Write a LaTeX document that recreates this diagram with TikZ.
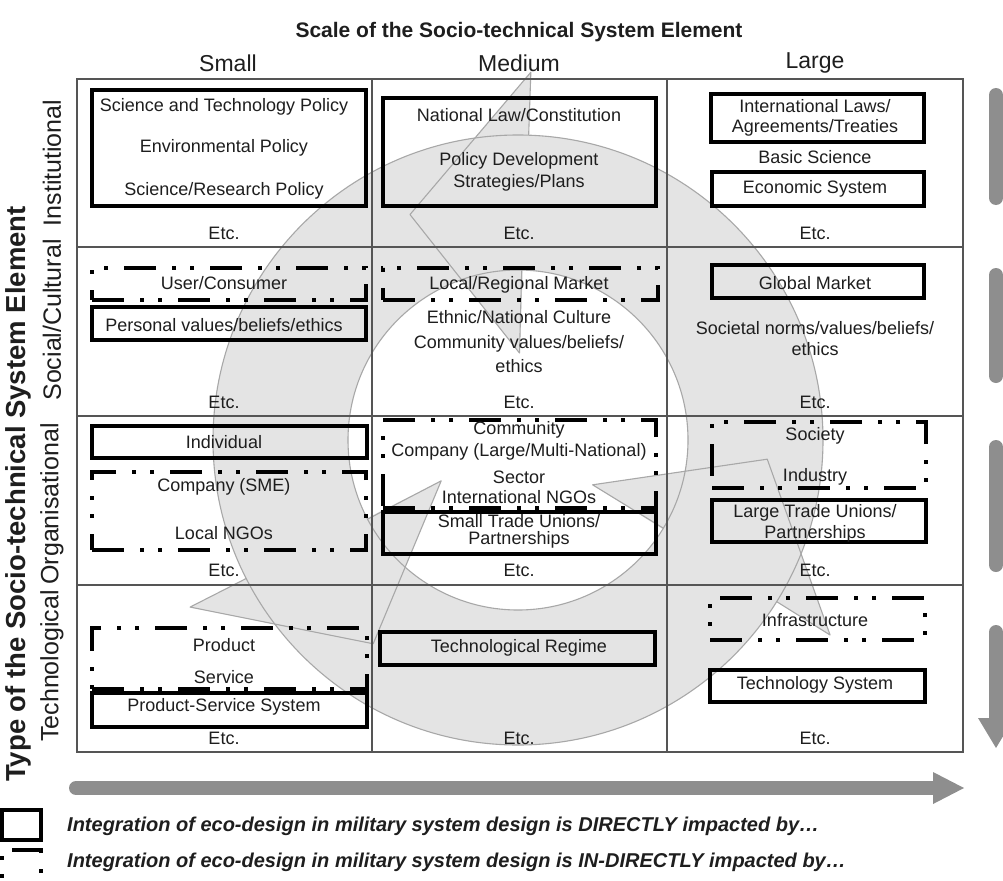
\documentclass[tikz,border=0pt]{standalone}
\usepackage{fontspec}
\setmainfont{Liberation Sans}
\definecolor{ringfill}{HTML}{E4E4E4}
\definecolor{ringline}{HTML}{A8A8A8}
\definecolor{gridcol}{HTML}{555555}
\definecolor{bargray}{HTML}{8E8E8E}
\definecolor{ink}{HTML}{1E1E1E}
\newcommand\cbox[6]{\node[#1,anchor=north west,minimum width={#5-#3},minimum height={#6-#4}] (#2) at (#3,#4) {};}
\begin{document}
\begin{tikzpicture}[x=1pt,y=-1pt,
  sbox/.style={draw=black,line width=4pt,inner sep=0pt,outer sep=0pt},
  dbox/.style={draw=black,line width=4pt,inner sep=0pt,outer sep=0pt,
    dash pattern=on 32pt off 16pt on 4pt off 14pt on 4pt off 16pt},
  txt/.style={font=\fontsize{18}{20}\selectfont,text=ink,inner sep=0pt,align=center},
  hdr/.style={font=\fontsize{23}{26}\selectfont,text=ink,inner sep=0pt},
  ttl/.style={font=\bfseries\fontsize{21}{24}\selectfont,text=ink,inner sep=0pt},
  rowlbl/.style={font=\fontsize{25}{28}\selectfont,text=ink,inner sep=0pt,rotate=90},
  vttl/.style={font=\bfseries\fontsize{27.5}{30}\selectfont,text=ink,inner sep=0pt,rotate=90},
  lgd/.style={font=\bfseries\itshape\fontsize{20}{22}\selectfont,text=ink,inner sep=0pt,anchor=west},
  gridln/.style={draw=gridcol,line width=1.5pt},
  bar/.style={draw=bargray,line width=14pt,line cap=round},
  ringln/.style={draw=ringline,line width=1.1pt}]
\useasboundingbox (0,0) rectangle (1003,880);
\fill[white] (0,0) rectangle (1003,880);

% cycle ring with three arrowheads
\begin{scope}[shift={(518,440)},yscale=-1]
  \fill[ringfill,even odd rule] (0,0) circle[radius=305] (0,0) circle[radius=170];
  \foreach \t in {88,207,328}{
    \fill[ringfill] (\t:368) -- ({\t+27.6}:250) -- ({\t+1}:87) -- cycle;
  }
  \draw[ringln] (0,0) circle[radius=305];
  \draw[ringln] (0,0) circle[radius=170];
  \foreach \t in {88,207,328}{
    \draw[ringln,line join=round] (\t:305) -- (\t:368) -- ({\t+27.6}:250) -- ({\t+1}:87) -- ({\t+0.75}:170);
  }
\end{scope}

% grid
\draw[gridln] (77,79) rectangle (963,752);
\draw[gridln] (372,79) -- (372,752);
\draw[gridln] (667,79) -- (667,752);
\draw[gridln] (77,247) -- (963,247);
\draw[gridln] (77,416) -- (963,416);
\draw[gridln] (77,585) -- (963,585);

% headers
\node[ttl] (title) at (519,32) {Scale of the Socio-technical System Element};
\node[hdr] (hs) at (228,63) {Small};
\node[hdr] (hm) at (519,63) {Medium};
\node[hdr] (hl) at (815,63) {Large};
\node[vttl] (vtitle) at (18,494) {Type of the Socio-technical System Element};
\node[rowlbl] (r1) at (52,163) {Institutional};
\node[rowlbl] (r2) at (52,320) {Social/Cultural};
\node[rowlbl] (r3) at (52,504) {Organisational};
\node[rowlbl] (r4) at (52,666) {Technological};

% right side bars
\draw[bar] (996,95) -- (996,198);
\draw[bar] (996,275) -- (996,376);
\draw[bar] (996,447) -- (996,565);
\draw[bar] (996,632) -- (996,722);
\fill[bargray] (978,718) -- (1014,718) -- (996,748) -- cycle;
% bottom arrow
\draw[bar] (76,788) -- (936,788);
\fill[bargray] (933,772) -- (964,788) -- (933,804) -- cycle;

% Institutional
\cbox{sbox}{bis}{92}{90}{366}{206}
\node[txt] (is1) at (224,107) {Science and Technology Policy};
\node[txt] (is2) at (224,148) {Environmental Policy};
\node[txt] (is3) at (224,191) {Science/Research Policy};
\node[txt] (ise) at (224,233) {Etc.};
\cbox{sbox}{bim}{383}{98}{656}{206}
\node[txt] (im1) at (519,115) {National Law/Constitution};
\node[txt] (im2) at (519,161) {Policy Development};
\node[txt] (im3) at (519,183) {Strategies/Plans};
\node[txt] (ime) at (519,233) {Etc.};
\cbox{sbox}{bil1}{711}{94}{924}{142}
\node[txt] (il1) at (815,106) {International Laws/};
\node[txt] (il2) at (815,128) {Agreements/Treaties};
\node[txt] (il3) at (815,157) {Basic Science};
\cbox{sbox}{bil2}{712}{172}{924}{206}
\node[txt] (il4) at (815,189) {Economic System};
\node[txt] (ile) at (815,233) {Etc.};

% Social/Cultural
\cbox{dbox}{bss1}{92}{268}{366}{300}
\node[txt] (ss1) at (224,283) {User/Consumer};
\cbox{sbox}{bss2}{92}{307}{366}{340}
\node[txt] (ss2) at (224,325) {Personal values/beliefs/ethics};
\node[txt] (sse) at (224,402) {Etc.};
\cbox{dbox}{bsm}{383}{268}{658}{300}
\node[txt] (sm1) at (519,285) {Local/Regional Market};
\node[txt] (sm2) at (519,317) {Ethnic/National Culture};
\node[txt] (sm3) at (519,344) {Community values/beliefs/};
\node[txt] (sm4) at (519,366) {ethics};
\node[txt] (sme) at (519,402) {Etc.};
\cbox{sbox}{bsl}{712}{265}{924}{298}
\node[txt] (sl1) at (815,283) {Global Market};
\node[txt] (sl2) at (815,328) {Societal norms/values/beliefs/};
\node[txt] (sl3) at (815,349) {ethics};
\node[txt] (sle) at (815,402) {Etc.};

% Organisational
\cbox{sbox}{bos1}{92}{426}{367}{458}
\node[txt] (os1) at (224,442) {Individual};
\cbox{dbox}{bos2}{92}{472}{366}{550}
\node[txt] (os2) at (224,487) {Company (SME)};
\node[txt] (os3) at (224,533) {Local NGOs};
\node[txt] (ose) at (224,570) {Etc.};
\cbox{dbox}{bom1}{383}{420}{656}{508}
\node[txt] (om1) at (519,430) {Community};
\node[txt] (om2) at (519,452) {Company (Large/Multi-National)};
\node[txt] (om3) at (519,477) {Sector};
\node[txt] (om4) at (519,497) {International NGOs};
\cbox{sbox}{bom2}{383}{512}{656}{554}
\node[txt] (om5) at (519,521) {Small Trade Unions/};
\node[txt] (om6) at (519,540) {Partnerships};
\node[txt] (ome) at (519,570) {Etc.};
\cbox{dbox}{bol1}{712}{422}{926}{488}
\node[txt] (ol1) at (815,436) {Society};
\node[txt] (ol2) at (815,477) {Industry};
\cbox{sbox}{bol2}{712}{500}{926}{542}
\node[txt] (ol3) at (815,513) {Large Trade Unions/};
\node[txt] (ol4) at (815,534) {Partnerships};
\node[txt] (ole) at (815,570) {Etc.};

% Technological
\cbox{dbox}{bts1}{92}{628}{367}{689}
\node[txt] (ts1) at (224,645) {Product};
\node[txt] (ts2) at (224,677) {Service};
\cbox{sbox}{bts2}{92}{693}{367}{727}
\node[txt] (ts3) at (224,707) {Product-Service System};
\node[txt] (tse) at (224,738) {Etc.};
\cbox{sbox}{btm}{380}{632}{655}{665}
\node[txt] (tm1) at (519,648) {Technological Regime};
\node[txt] (tme) at (519,738) {Etc.};
\cbox{dbox}{btl1}{710}{598}{925}{640}
\node[txt] (tl1) at (815,620) {Infrastructure};
\cbox{sbox}{btl2}{710}{670}{925}{702}
\node[txt] (tl2) at (815,685) {Technology System};
\node[txt] (tle) at (815,738) {Etc.};

% legend
\cbox{sbox}{lg1}{2}{810}{41}{840}
\cbox{dbox}{lg2}{2}{850}{41}{900}
\node[lgd] (lt1) at (67,826) {Integration of eco-design in military system design is DIRECTLY impacted by…};
\node[lgd] (lt2) at (67,862) {Integration of eco-design in military system design is IN-DIRECTLY impacted by…};
\end{tikzpicture}
\end{document}
